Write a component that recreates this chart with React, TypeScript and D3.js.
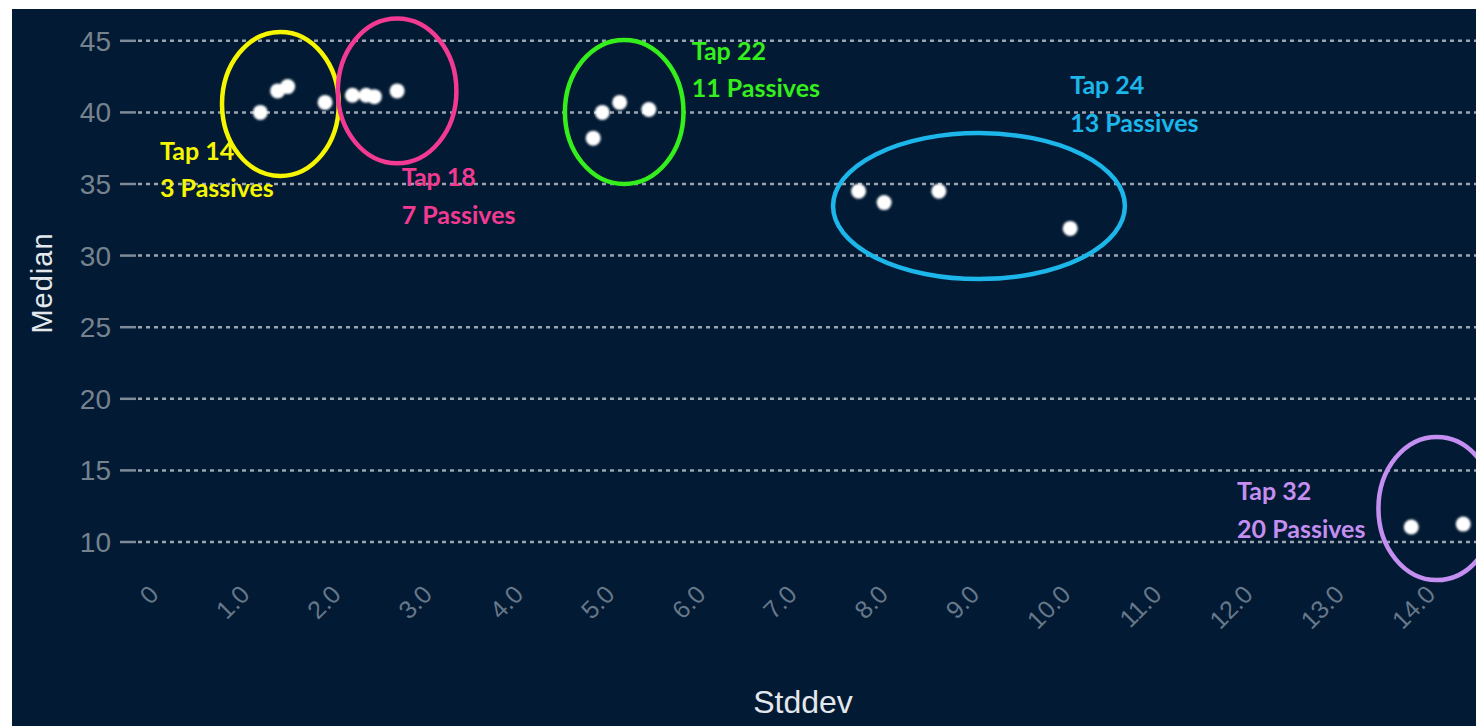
import React from "react";
import * as d3 from "d3";

const W = 1476;
const H = 726;

const xTickValues = d3.range(0, 15);
const yTickValues = [10, 15, 20, 25, 30, 35, 40, 45];

const stddevValues = [1.1, 1.29, 1.4, 1.81, 2.11, 2.26, 2.35, 2.6, 4.75, 4.85, 5.04, 5.36, 7.66, 7.94, 8.54, 9.98, 13.72, 14.29];
const medianValues = [40.0, 41.5, 41.8, 40.7, 41.2, 41.2, 41.1, 41.5, 38.2, 40.0, 40.7, 40.2, 34.5, 33.7, 34.5, 31.9, 11.05, 11.25];

const groupTaps = ["Tap 14", "Tap 18", "Tap 22", "Tap 24", "Tap 32"];
const groupPassives = ["3 Passives", "7 Passives", "11 Passives", "13 Passives", "20 Passives"];
const groupColors = ["#f6f600", "#f23a92", "#35ef1c", "#1cb6ea", "#c48ff1"];
const ellipseCx = [1.32, 2.6, 5.09, 8.98, 14.0];
const ellipseCy = [40.59, 41.5, 40.03, 33.46, 12.34];
const ellipseRx = [0.64, 0.65, 0.65, 1.6, 0.64];
const ellipseRy = [5.03, 5.05, 5.03, 5.1, 5.0];
const labelX = [0.0, 2.65, 5.83, 9.98, 11.81];
const labelY = [36.7, 34.86, 43.66, 41.28, 12.93];

const x = d3.scaleLinear().domain([0, 14]).range([160, 160 + 14 * 91.2]);
const y = d3.scaleLinear().domain([10, 45]).range([542, 40.8]);

const fmtX = (v: number) => (v === 0 ? "0" : d3.format(".1f")(v));

export default function App() {
  const points = stddevValues.map((s, i) => ({ s, m: medianValues[i] }));
  return (
    <svg
      width={W}
      height={H}
      style={{ position: "absolute", left: 0, top: 0, display: "block" }}
      fontFamily="'Liberation Sans', Arial, sans-serif"
    >
      <defs>
        <filter id="soft" x="-50%" y="-50%" width="200%" height="200%">
          <feGaussianBlur stdDeviation="0.9" />
        </filter>
      </defs>
      <rect x={0} y={0} width={W} height={H} fill="#ffffff" />
      <rect x={12} y={9} width={W - 12} height={H - 9} fill="#021a33" />

      {/* y grid + ticks */}
      {yTickValues.map((v) => (
        <g key={"y" + v}>
          <line x1={120} x2={136} y1={y(v)} y2={y(v)} stroke="#7f8b97" strokeWidth={2.5} />
          <line
            x1={138}
            x2={W}
            y1={y(v)}
            y2={y(v)}
            stroke="#9aa5b0"
            strokeWidth={2.5}
            strokeDasharray="4 4"
          />
          <text
            x={111}
            y={y(v)}
            dy="0.36em"
            textAnchor="end"
            fontSize={28}
            fill="#76838f"
          >
            {v}
          </text>
        </g>
      ))}

      {/* x tick labels */}
      {xTickValues.map((v) => (
        <text
          key={"x" + v}
          transform={`translate(${x(v)},596) rotate(-45)`}
          textAnchor="end"
          fontSize={25}
          fill="#66788a"
        >
          {fmtX(v)}
        </text>
      ))}

      {/* axis titles */}
      <text x={803} y={713} textAnchor="middle" fontSize={32} fill="#e4e8ec">
        Stddev
      </text>
      <text
        transform={`translate(52,283) rotate(-90)`}
        textAnchor="middle"
        fontSize={29}
        fill="#e4e8ec"
        letterSpacing={1}
      >
        Median
      </text>

      {/* points */}
      <g filter="url(#soft)">
        {points.map((p, i) => (
          <circle key={"p" + i} cx={x(p.s)} cy={y(p.m)} r={7.5} fill="#ffffff" />
        ))}
      </g>

      {/* annotations */}
      {groupTaps.map((t, i) => {
        const cx = x(ellipseCx[i]);
        const cy = y(ellipseCy[i]);
        const rx = x(ellipseCx[i] + ellipseRx[i]) - cx;
        const ry = y(ellipseCy[i]) - y(ellipseCy[i] + ellipseRy[i]);
        const lx = x(labelX[i]);
        const ly = y(labelY[i]);
        return (
          <g key={"a" + i}>
            <ellipse cx={cx} cy={cy} rx={rx} ry={ry} fill="none" stroke={groupColors[i]} strokeWidth={4.5} />
            <text
              x={lx}
              y={ly}
              fontFamily="Lato, 'Open Sans', sans-serif"
              fontWeight={700}
              fontSize={25}
              fill={groupColors[i]}
            >
              <tspan x={lx}>{t}</tspan>
              <tspan x={lx} dy={37.5}>
                {groupPassives[i]}
              </tspan>
            </text>
          </g>
        );
      })}
    </svg>
  );
}
